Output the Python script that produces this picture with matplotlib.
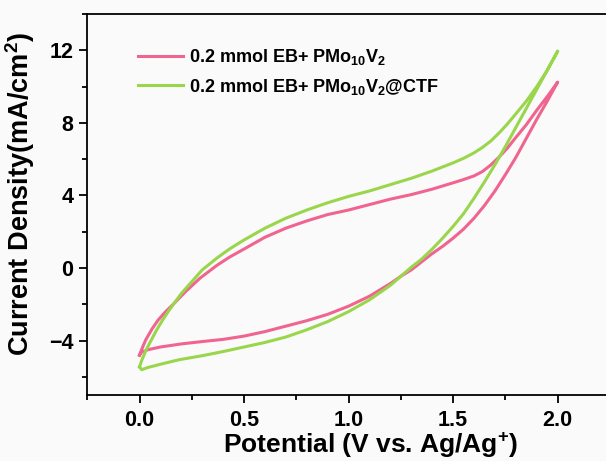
import matplotlib
matplotlib.use("Agg")
import matplotlib.pyplot as plt
from matplotlib.ticker import MultipleLocator

plt.rcParams['font.family'] = ['Liberation Sans', 'DejaVu Sans']
plt.rcParams['font.weight'] = 'bold'
plt.rcParams['mathtext.fontset'] = 'custom'
plt.rcParams['mathtext.rm'] = 'Liberation Sans:bold'
plt.rcParams['mathtext.it'] = 'Liberation Sans:bold'
plt.rcParams['mathtext.bf'] = 'Liberation Sans:bold'
plt.rcParams['mathtext.default'] = 'rm'

# CV loop, 0.2 mmol EB + PMo10V2 (anodic sweep then cathodic sweep)
pmo_v = [0.0, 0.015, 0.03, 0.06, 0.09, 0.125, 0.165, 0.22, 0.29, 0.37, 0.43, 0.5,
         0.6, 0.7, 0.8, 0.9, 1.0, 1.1, 1.2, 1.3, 1.4, 1.5, 1.55, 1.6, 1.64, 1.68,
         1.72, 1.76, 1.8, 1.85, 1.9, 1.95, 2.0,
         1.95, 1.9, 1.85, 1.8, 1.75, 1.7, 1.65, 1.6, 1.55, 1.5, 1.45, 1.4, 1.35,
         1.3, 1.25, 1.2, 1.1, 1.0, 0.9, 0.8, 0.7, 0.6, 0.5, 0.4, 0.3, 0.2, 0.1,
         0.04, 0.008, 0.0]
pmo_j = [-4.8, -4.35, -3.95, -3.35, -2.85, -2.4, -1.95, -1.3, -0.55, 0.15, 0.6, 1.05,
         1.7, 2.2, 2.6, 2.95, 3.2, 3.5, 3.8, 4.05, 4.35, 4.7, 4.88, 5.08, 5.32, 5.68,
         6.12, 6.62, 7.2, 7.9, 8.7, 9.45, 10.25,
         9.2, 8.2, 7.15, 6.1, 5.15, 4.25, 3.45, 2.75, 2.15, 1.65, 1.2, 0.8, 0.35,
         -0.1, -0.45, -0.85, -1.55, -2.1, -2.55, -2.9, -3.2, -3.5, -3.75, -3.93,
         -4.05, -4.18, -4.35, -4.5, -4.65, -4.8]

# CV loop, 0.2 mmol EB + PMo10V2@CTF
ctf_v = [0.0, 0.01, 0.03, 0.05, 0.08, 0.11, 0.14, 0.165, 0.2, 0.25, 0.3, 0.37, 0.43,
         0.5, 0.6, 0.7, 0.8, 0.9, 1.0, 1.1, 1.2, 1.3, 1.4, 1.5, 1.55, 1.6, 1.64,
         1.68, 1.72, 1.76, 1.8, 1.85, 1.9, 1.95, 2.0,
         1.95, 1.9, 1.85, 1.8, 1.75, 1.7, 1.65, 1.6, 1.55, 1.5, 1.45, 1.4, 1.35,
         1.3, 1.25, 1.2, 1.1, 1.0, 0.9, 0.8, 0.7, 0.6, 0.5, 0.4, 0.3, 0.19, 0.1,
         0.04, 0.01, 0.0]
ctf_j = [-5.45, -5.1, -4.55, -4.1, -3.45, -2.87, -2.35, -1.95, -1.4, -0.75, -0.1,
         0.55, 1.05, 1.55, 2.2, 2.75, 3.2, 3.6, 3.95, 4.25, 4.6, 4.95, 5.35, 5.8,
         6.05, 6.35, 6.65, 7.0, 7.45, 7.95, 8.5, 9.2, 10.0, 10.9, 11.95,
         10.9, 9.85, 8.8, 7.75, 6.7, 5.7, 4.75, 3.85, 3.0, 2.3, 1.65, 1.05, 0.5,
         0.05, -0.45, -0.95, -1.75, -2.4, -2.95, -3.4, -3.8, -4.1, -4.35, -4.6,
         -4.83, -5.05, -5.3, -5.48, -5.6, -5.45]

labels = [r'0.2 mmol EB+ PMo$_{10}$V$_2$', r'0.2 mmol EB+ PMo$_{10}$V$_2$@CTF']
colors = ['#ef6590', '#9ad64c']

bg = '#fafafa'
fig = plt.figure(figsize=(6.06, 4.61), dpi=100, facecolor=bg)
ax = fig.add_axes([0.144, 0.143, 0.8625, 0.8265], facecolor=bg)

ax.plot(pmo_v, pmo_j, color=colors[0], lw=2.2, label=labels[0])
ax.plot(ctf_v, ctf_j, color=colors[1], lw=2.2, label=labels[1])

ax.set_xlim(-0.25, 2.25)
ax.set_ylim(-7, 14)
ax.set_xticks([0.0, 0.5, 1.0, 1.5, 2.0])
ax.set_yticks([-4, 0, 4, 8, 12])
ax.xaxis.set_minor_locator(MultipleLocator(0.25))
ax.yaxis.set_minor_locator(MultipleLocator(2))
ax.tick_params(which='major', direction='out', length=6, width=1.3, labelsize=15.5)
ax.tick_params(which='minor', direction='out', length=3.5, width=1.3)
ax.tick_params(axis='x', pad=4.5)
ax.tick_params(axis='y', pad=4)
for lab in ax.get_xticklabels() + ax.get_yticklabels():
    lab.set_fontweight('bold')
for s in ax.spines.values():
    s.set_linewidth(1.3)

ax.set_xlabel(r'Potential (V vs. Ag/Ag$^{+}$)', fontsize=19, fontweight='bold')
ax.set_ylabel(r'Current Density(mA/cm$^{2}$)', fontsize=19.5, fontweight='bold')
ax.xaxis.set_label_coords(0.543, -0.094)
ax.yaxis.set_label_coords(-0.096, 0.528)

leg = ax.legend(loc='upper left', bbox_to_anchor=(0.098, 0.914), frameon=False,
                fontsize=13, handlelength=2.45, handletextpad=0.35,
                labelspacing=0.55, borderpad=0, borderaxespad=0)

fig.savefig('out.png', dpi=100, facecolor=bg)
